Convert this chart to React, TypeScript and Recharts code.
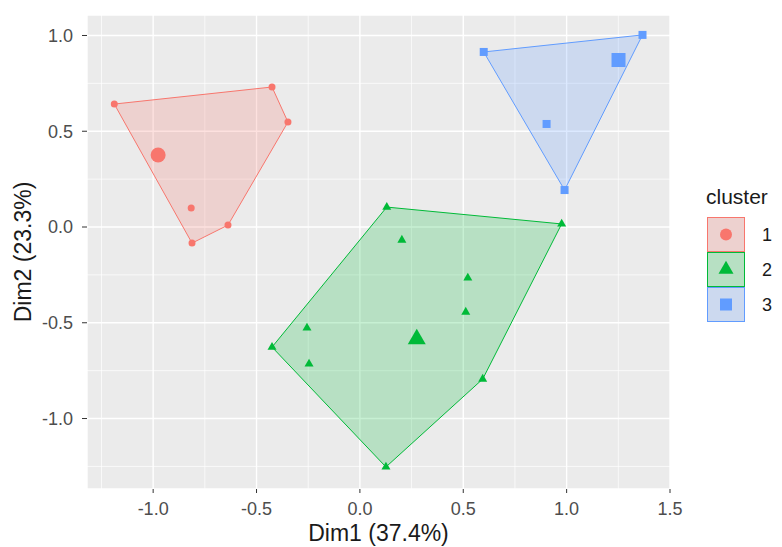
import React from 'react';
import { ScatterChart, Scatter, XAxis, YAxis, CartesianGrid, ReferenceLine, Legend } from 'recharts';

const clusterLabels = ['1', '2', '3'];
const clusterColors = ['#F8766D', '#00BA38', '#619CFF'];

// individuals as [Dim1, Dim2]; the hull vertices come first, in drawing order
const cluster1 = [[-1.188, 0.642], [-0.425, 0.731], [-0.348, 0.548], [-0.638, 0.01], [-0.812, -0.084], [-0.816, 0.099]];
const cluster2 = [
  [0.13, 0.104], [0.976, 0.016], [0.594, -0.794], [0.126, -1.253], [-0.425, -0.627],
  [0.203, -0.068], [0.522, -0.266], [0.512, -0.444], [-0.256, -0.527], [-0.246, -0.715],
];
const cluster3 = [[0.599, 0.914], [1.367, 1.003], [0.99, 0.193], [0.903, 0.538]];
const hullSizes = [5, 5, 3];
const centers = [[-0.976, 0.376], [0.275, -0.585], [1.251, 0.872]];

const xTicks = [-1.0, -0.5, 0.0, 0.5, 1.0, 1.5];
const yTicks = [-1.0, -0.5, 0.0, 0.5, 1.0];
const xMinor = [-1.25, -0.75, -0.25, 0.25, 0.75, 1.25];
const yMinor = [-1.25, -0.75, -0.25, 0.25, 0.75];

type Kind = 'circle' | 'triangle' | 'square';
const kinds: Kind[] = ['circle', 'triangle', 'square'];
const smallSize: Record<Kind, number> = { circle: 7, triangle: 9, square: 8 };
const bigSize: Record<Kind, number> = { circle: 15, triangle: 18, square: 14 };
const legendSize: Record<Kind, number> = { circle: 12, triangle: 15, square: 12 };

const clusters = [cluster1, cluster2, cluster3];
const toRows = (pts: number[][]) => pts.map(([x, y]) => ({ x, y }));

function mark(kind: Kind, size: number, color: string, cx: number, cy: number) {
  if (kind === 'circle') return <circle cx={cx} cy={cy} r={size / 2} fill={color} />;
  if (kind === 'square')
    return <rect x={cx - size / 2} y={cy - size / 2} width={size} height={size} fill={color} />;
  const h = size * 0.866;
  const pts = `${cx},${cy - (h * 2) / 3} ${cx - size / 2},${cy + h / 3} ${cx + size / 2},${cy + h / 3}`;
  return <polygon points={pts} fill={color} />;
}

const shapeFor = (kind: Kind, size: number, color: string) => (p: any) => mark(kind, size, color, p.cx, p.cy);

const renderLegend = () => (
  <svg width={82} height={150} style={{ display: 'block' }}>
    <text x={4} y={20} fontSize={21} fill="#1A1A1A">cluster</text>
    {clusterLabels.map((label, i) => {
      const top = 33 + i * 35;
      const color = clusterColors[i];
      return (
        <g key={label}>
          <rect x={5.5} y={top + 0.5} width={37} height={34} fill="#EBEBEB" />
          <rect x={5.5} y={top + 0.5} width={37} height={34} fill={color} fillOpacity={0.22} stroke={color} strokeWidth={1} />
          {mark(kinds[i], legendSize[kinds[i]], color, 24, top + 17.5)}
          <text x={60} y={top + 24} fontSize={18} fill="#1A1A1A">{label}</text>
        </g>
      );
    })}
  </svg>
);

export default function App() {
  return (
    <div style={{ position: 'absolute', left: 0, top: 0, fontFamily: '"Liberation Sans", Arial, sans-serif' }}>
      <ScatterChart width={782} height={547} margin={{ top: 15, right: 112, bottom: 0, left: 0 }}>
        <CartesianGrid fill="#EBEBEB" stroke="#FFFFFF" strokeWidth={1.4} />
        {xMinor.map((v) => (
          <ReferenceLine key={'x' + v} x={v} stroke="#FFFFFF" strokeWidth={0.7} />
        ))}
        {yMinor.map((v) => (
          <ReferenceLine key={'y' + v} y={v} stroke="#FFFFFF" strokeWidth={0.7} />
        ))}
        <XAxis
          type="number"
          dataKey="x"
          domain={[-1.32, 1.5]}
          ticks={xTicks}
          interval={0}
          allowDataOverflow
          axisLine={false}
          tickSize={4}
          tickMargin={9}
          tickLine={{ stroke: '#333333' }}
          tick={{ fill: '#4D4D4D', fontSize: 18 }}
          tickFormatter={(v: number) => v.toFixed(1)}
          height={58}
          label={{ value: 'Dim1 (37.4%)', position: 'insideBottom', offset: 6, fill: '#1A1A1A', fontSize: 23 }}
        />
        <YAxis
          type="number"
          dataKey="y"
          domain={[-1.368, 1.107]}
          ticks={yTicks}
          interval={0}
          allowDataOverflow
          axisLine={false}
          tickSize={5}
          tickMargin={9}
          tickLine={{ stroke: '#333333' }}
          tick={{ fill: '#4D4D4D', fontSize: 18 }}
          tickFormatter={(v: number) => v.toFixed(1)}
          width={87}
          label={{ value: 'Dim2 (23.3%)', angle: -90, position: 'center', dx: -21, fill: '#1A1A1A', fontSize: 23 }}
        />
        {clusters.map((pts, i) => (
          <Scatter
            key={'hull' + i}
            data={toRows(pts.slice(0, hullSizes[i]))}
            fill={clusterColors[i]}
            line={{ stroke: clusterColors[i], strokeWidth: 1, fill: clusterColors[i], fillOpacity: 0.22 }}
            lineJointType="linearClosed"
            shape={() => <g />}
            legendType="none"
            isAnimationActive={false}
          />
        ))}
        {clusters.map((pts, i) => (
          <Scatter
            key={'pts' + i}
            name={clusterLabels[i]}
            data={toRows(pts)}
            fill={clusterColors[i]}
            shape={shapeFor(kinds[i], smallSize[kinds[i]], clusterColors[i])}
            legendType="none"
            isAnimationActive={false}
          />
        ))}
        <Scatter
          data={toRows(centers).map((r, i) => ({ ...r, k: i }))}
          shape={(p: any) => mark(kinds[p.payload.k], bigSize[kinds[p.payload.k]], clusterColors[p.payload.k], p.cx, p.cy)}
          legendType="none"
          isAnimationActive={false}
        />
        <Legend
          layout="horizontal"
          align="center"
          verticalAlign="middle"
          content={renderLegend}
          wrapperStyle={{ position: 'absolute', left: 702, top: 184, width: 82, height: 150 }}
        />
      </ScatterChart>
    </div>
  );
}
